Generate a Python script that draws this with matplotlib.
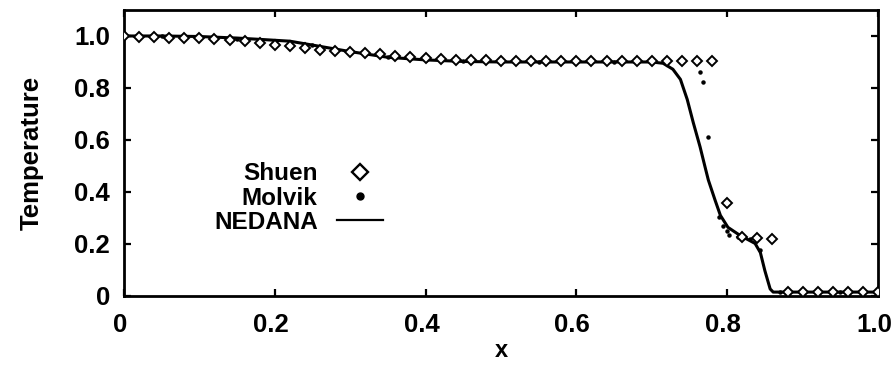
import matplotlib
matplotlib.use("Agg")
import matplotlib.pyplot as plt
import matplotlib.transforms as mtransforms

plt.rcParams['font.family'] = ['Liberation Sans', 'DejaVu Sans']
plt.rcParams['font.weight'] = 'bold'

# Shuen (diamonds), every 0.02
shuen_x = [0.00, 0.02, 0.04, 0.06, 0.08, 0.10, 0.12, 0.14, 0.16, 0.18,
           0.20, 0.22, 0.24, 0.26, 0.28, 0.30, 0.32, 0.34, 0.36, 0.38,
           0.40, 0.42, 0.44, 0.46, 0.48, 0.50, 0.52, 0.54, 0.56, 0.58,
           0.60, 0.62, 0.64, 0.66, 0.68, 0.70, 0.72, 0.74, 0.76, 0.78,
           0.80, 0.82, 0.84, 0.86, 0.88, 0.90, 0.92, 0.94, 0.96, 0.98, 1.00]
shuen_y = [1.000, 0.996, 0.995, 0.994, 0.993, 0.992, 0.989, 0.986, 0.980, 0.973,
           0.966, 0.961, 0.953, 0.947, 0.941, 0.937, 0.933, 0.929, 0.924, 0.920,
           0.914, 0.911, 0.909, 0.908, 0.907, 0.905, 0.905, 0.905, 0.905, 0.905,
           0.905, 0.905, 0.905, 0.905, 0.905, 0.905, 0.905, 0.905, 0.905, 0.905,
           0.357, 0.225, 0.222, 0.218, 0.015, 0.015, 0.015, 0.015, 0.015, 0.015, 0.015]

# Molvik (dots)
molvik_x = [0.00, 0.05, 0.10, 0.15, 0.20, 0.25, 0.30, 0.35, 0.40, 0.45,
            0.50, 0.55, 0.60, 0.65, 0.70, 0.764, 0.768, 0.774, 0.789, 0.795,
            0.800, 0.803, 0.815, 0.830, 0.843, 0.870, 0.900, 0.950, 1.00]
molvik_y = [1.000, 1.000, 0.998, 0.990, 0.980, 0.965, 0.940, 0.920, 0.908, 0.902,
            0.900, 0.900, 0.900, 0.900, 0.900, 0.860, 0.822, 0.612, 0.302, 0.271,
            0.250, 0.236, 0.225, 0.220, 0.175, 0.015, 0.015, 0.015, 0.015]

# NEDANA (line)
nedana_x = [0.00, 0.05, 0.10, 0.15, 0.18, 0.22, 0.26, 0.30, 0.35, 0.40,
            0.45, 0.50, 0.60, 0.70, 0.715, 0.728, 0.738, 0.747, 0.755, 0.764,
            0.771, 0.775, 0.784, 0.791, 0.801, 0.817, 0.830, 0.837, 0.844, 0.850,
            0.857, 0.861, 0.870, 1.00]
nedana_y = [1.000, 1.000, 0.998, 0.992, 0.987, 0.980, 0.960, 0.940, 0.918, 0.908,
            0.902, 0.900, 0.900, 0.900, 0.895, 0.872, 0.833, 0.756, 0.667, 0.574,
            0.492, 0.446, 0.368, 0.310, 0.264, 0.233, 0.213, 0.202, 0.167, 0.097,
            0.027, 0.015, 0.015, 0.015]

fig = plt.figure(figsize=(8.95, 3.67), dpi=100)
ax = fig.add_axes([0.1385, 0.1935, 0.8425, 0.7793])

ax.plot(nedana_x, nedana_y, '-', color='black', lw=2.2, label='NEDANA', zorder=2)
ax.plot(molvik_x, molvik_y, 'o', color='black', ms=2.2, label='Molvik', zorder=3)
ax.plot(shuen_x, shuen_y, 'D', mfc='white', mec='black', mew=1.4, ms=4.8,
        label='Shuen', zorder=4)

ax.set_xlim(0, 1.0)
ax.set_ylim(0, 1.1)
ax.set_xticks([0, 0.2, 0.4, 0.6, 0.8, 1.0])
ax.set_xticklabels(['0', '0.2', '0.4', '0.6', '0.8', '1.0'])
ax.set_yticks([0, 0.2, 0.4, 0.6, 0.8, 1.0])
ax.set_yticklabels(['0', '0.2', '0.4', '0.6', '0.8', '1.0'])
ax.tick_params(direction='in', top=True, right=True, length=5, width=1.6,
               labelsize=18.5)
ax.tick_params(axis='x', pad=12)
ax.tick_params(axis='y', pad=10)
for s in ax.spines.values():
    s.set_linewidth(2.0)

# scanned original has the x tick labels a little left of their ticks
shift = mtransforms.ScaledTranslation(-3 / 72, 0, fig.dpi_scale_trans)
for lab in ax.get_xticklabels():
    lab.set_transform(lab.get_transform() + shift)

ax.set_xlabel('x', fontsize=17, fontweight='bold', labelpad=2)
ax.set_ylabel('Temperature', fontsize=18.5, fontweight='bold', labelpad=22)

handles, labels = ax.get_legend_handles_labels()
order = [2, 1, 0]
leg = ax.legend([handles[i] for i in order], [labels[i] for i in order],
                loc='center right', bbox_to_anchor=(0.344, 0.342),
                markerfirst=False, frameon=False, fontsize=17.5,
                handlelength=1.9, handletextpad=0.8, labelspacing=0.05,
                borderpad=0, borderaxespad=0, numpoints=1)
leg.legend_handles[0].set_markersize(8.5)
leg.legend_handles[0].set_markeredgewidth(1.7)
leg.legend_handles[1].set_markersize(5)
leg.legend_handles[2].set_linewidth(1.6)

fig.savefig('out.png', dpi=100)
